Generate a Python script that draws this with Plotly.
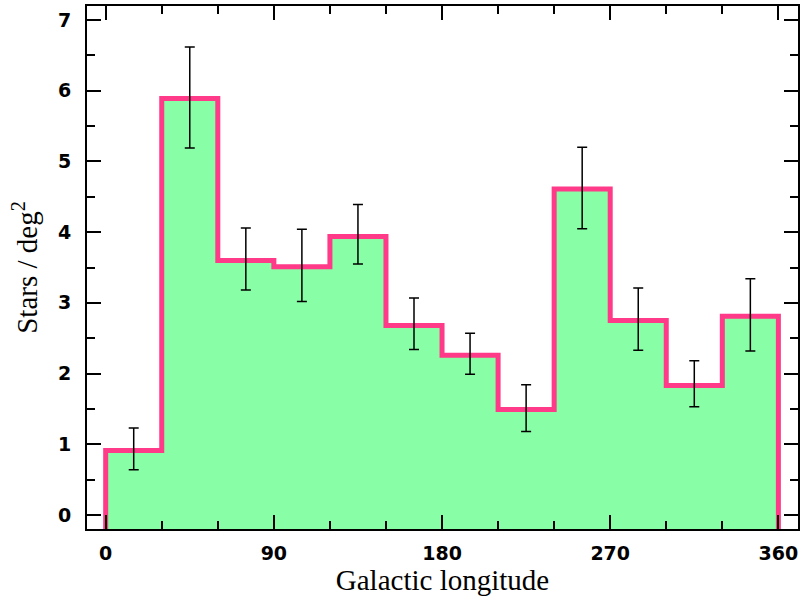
import plotly.graph_objects as go

bin_lo = [0, 30, 60, 90, 120, 150, 180, 210, 240, 270, 300, 330]
bin_width = 30
density = [0.91, 5.89, 3.60, 3.51, 3.94, 2.68, 2.26, 1.49, 4.61, 2.75, 1.83, 2.81]
err_hi = [1.23, 6.62, 4.06, 4.04, 4.39, 3.07, 2.57, 1.84, 5.20, 3.21, 2.18, 3.34]
err_lo = [0.64, 5.19, 3.18, 3.02, 3.55, 2.34, 1.99, 1.18, 4.05, 2.33, 1.53, 2.32]

x_range = [-10, 370.5]
y_range = [-0.2, 7.2]
floor = y_range[0] - 0.5

# step outline built from bins
xs = [bin_lo[0]]
ys = [floor]
for lo, v in zip(bin_lo, density):
    xs += [lo, lo + bin_width]
    ys += [v, v]
xs.append(bin_lo[-1] + bin_width)
ys.append(floor)

centers = [lo + bin_width / 2 for lo in bin_lo]
plus = [h - v for h, v in zip(err_hi, density)]
minus = [v - l for l, v in zip(err_lo, density)]

fig = go.Figure()
fig.add_trace(go.Scatter(
    x=xs, y=ys, mode="lines", fill="toself",
    fillcolor="#88ffa6",
    line=dict(color="#ff3a88", width=5),
    hoverinfo="skip",
))
fig.add_trace(go.Scatter(
    x=centers, y=density, mode="markers",
    marker=dict(size=0.1, color="black", opacity=0),
    error_y=dict(type="data", symmetric=False, array=plus, arrayminus=minus,
                 color="black", thickness=1.5, width=5),
))

tick_font = dict(family="DejaVu Sans", size=19, color="black", weight="bold")
title_font = dict(family="Liberation Serif", size=29, color="black")
fig.update_layout(
    width=804, height=601,
    margin=dict(l=87, r=4, t=6, b=72),
    paper_bgcolor="white", plot_bgcolor="white",
    showlegend=False,
    xaxis=dict(
        range=x_range, tickmode="linear", tick0=0, dtick=90,
        ticks="inside", ticklen=14, tickwidth=1.5, tickcolor="black",
        minor=dict(ticks="inside", ticklen=8, tickwidth=1.5, tickcolor="black", dtick=30, tick0=0, showgrid=False),
        showline=True, linecolor="black", linewidth=2, mirror="ticks",
        showgrid=False, zeroline=False,
        tickfont=tick_font, ticklabelstandoff=6,
        title=dict(text="Galactic longitude", font=title_font, standoff=4),
    ),
    yaxis=dict(
        range=y_range, tickmode="linear", tick0=0, dtick=1,
        ticks="inside", ticklen=14, tickwidth=1.5, tickcolor="black",
        minor=dict(ticks="inside", ticklen=8, tickwidth=1.5, tickcolor="black", dtick=0.5, tick0=0, showgrid=False),
        showline=True, linecolor="black", linewidth=2, mirror="ticks",
        showgrid=False, zeroline=False,
        tickfont=tick_font, ticklabelstandoff=10,
        title=dict(text="Stars / deg<sup>2</sup>", font=title_font, standoff=12),
    ),
)

fig.write_html("out.html")
